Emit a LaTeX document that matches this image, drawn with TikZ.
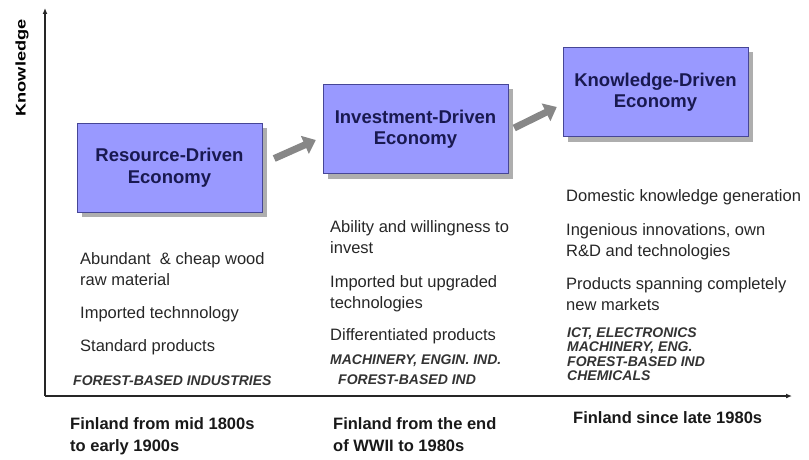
\documentclass[tikz,border=0pt]{standalone}
\usepackage{fontspec}
\usepackage{graphicx}
\setmainfont{Liberation Sans}
\usetikzlibrary{arrows.meta,shadows}
\definecolor{boxblue}{RGB}{153,153,255}
\definecolor{boxedge}{RGB}{70,70,150}
\definecolor{boxtext}{RGB}{25,25,80}
\definecolor{arrowgray}{RGB}{135,135,135}

\begin{document}
\begin{tikzpicture}[x=1pt,y=-1pt,
    stage/.style={draw=boxedge,fill=boxblue,minimum width=185pt,minimum height=89pt,align=center,
        text=boxtext,font=\fontsize{18.5}{21.5}\selectfont\bfseries,
        execute at begin node=\rule{0pt}{22pt},
        drop shadow={shadow xshift=5pt,shadow yshift=-5pt,fill=black!45,opacity=.7}},
    item/.style={anchor=base west,align=left,inner sep=0pt,text=black!85,font=\fontsize{16.5}{20.5}\selectfont},
    ind/.style={anchor=base west,align=left,inner sep=0pt,text=black!80,font=\fontsize{14}{14.5}\selectfont\bfseries\itshape},
    era/.style={anchor=base west,align=left,inner sep=0pt,text=black!90,font=\fontsize{16.5}{22}\selectfont\bfseries},
    knowaxis/.style={line width=1.8pt,draw=black!85,-{Latex[length=6pt,width=5pt]}},
    nextstage/.style={line width=7pt,draw=arrowgray,-{Triangle[length=12pt,width=19pt]}}]
    \useasboundingbox (0,0) rectangle (809,460);

    \coordinate (origin) at (45,396);
    \coordinate (ytop) at (45,8);
    \coordinate (xend) at (792,396);
    \draw[knowaxis](origin)--(ytop);
    \draw[knowaxis](origin)--(xend);
    \node[rotate=90,font=\fontsize{14}{16}\selectfont\bfseries] (ylab) at (22,68) {\scalebox{1.3}[1]{Knowledge}};

    \node[stage] (rd) at (169.5,167.5) {Resource-Driven\\Economy};
    \node[stage] (id) at (415.5,129) {Investment-Driven\\Economy};
    \node[stage] (kd) at (655.5,92) {Knowledge-Driven\\Economy};

    \draw[nextstage]([xshift=12pt,yshift=9pt]rd.east)--([xshift=-7pt,yshift=-11pt]id.west);
    \draw[nextstage]([xshift=6pt,yshift=1pt]id.east)--([xshift=-6pt,yshift=-15pt]kd.west);

    % resource-driven (base = last line)
    \node[item] (r1) at (80,285) {Abundant \ \& cheap wood\\raw material};
    \node[item] (r2) at (80,318) {Imported technnology};
    \node[item] (r3) at (80,351) {Standard products};
    \node[ind] (r4) at (73,385) {FOREST-BASED INDUSTRIES};
    \node[era] (r5) at (70,451) {Finland from mid 1800s\\to early 1900s};

    % investment-driven
    \node[item] (i1) at (330,253) {Ability and willingness to\\invest};
    \node[item] (i2) at (330,308) {Imported but upgraded\\technologies};
    \node[item] (i3) at (330,340) {Differentiated products};
    \node[ind] (i4) at (330,364) {MACHINERY, ENGIN. IND.};
    \node[ind] (i5) at (338,384) {FOREST-BASED IND};
    \node[era] (i6) at (333,451) {Finland from the end\\of WWII to 1980s};

    % knowledge-driven
    \node[item] (k1) at (566,201) {Domestic knowledge generation};
    \node[item] (k2) at (566,256) {Ingenious innovations, own\\R\&D and technologies};
    \node[item] (k3) at (566,310) {Products spanning completely\\new markets};
    \node[ind] (k4) at (567,380.5) {ICT, ELECTRONICS\\MACHINERY, ENG.\\FOREST-BASED IND\\CHEMICALS};
    \node[era] (k5) at (573,423) {Finland since late 1980s};
\end{tikzpicture}
\end{document}
